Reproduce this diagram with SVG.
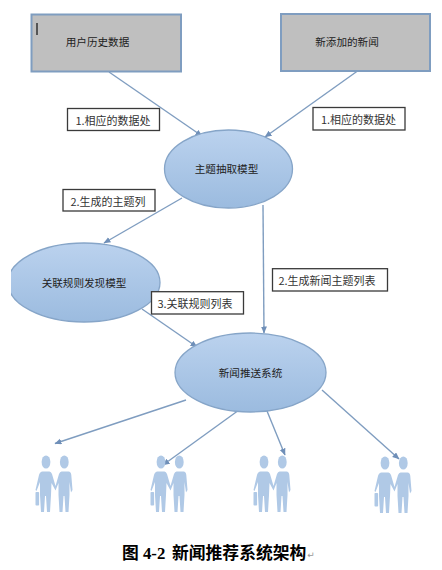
<svg xmlns="http://www.w3.org/2000/svg" width="442" height="570" viewBox="0 0 442 570">
<style>
.box{fill:#bfbfbf;stroke:#7f9dc0;stroke-width:2}
.ell{fill:url(#eg);stroke:#86a5c8;stroke-width:1.3}
.lab{fill:#fff;stroke:#3a3a3a;stroke-width:1.3}
text{font-family:"Noto Sans CJK SC","Liberation Sans",sans-serif;fill:#222;text-anchor:middle}
.n{font-size:10.6px}
.l{font-size:11px;fill:#333}
.con{fill:none;stroke:#7f9dc0;stroke-width:1.4;marker-end:url(#arr)}
.p{fill:#b0c9e6}
.cap{font-size:16.8px;font-weight:700;fill:#000;text-anchor:start;font-family:"Liberation Serif","Noto Sans CJK SC",serif}
</style>
<defs>
<linearGradient id="eg" x1="0" y1="0" x2="0" y2="1"><stop offset="0" stop-color="#bbd2ee"/><stop offset="1" stop-color="#9bbbdf"/></linearGradient>
<marker id="arr" markerWidth="8" markerHeight="8" refX="6.5" refY="3" orient="auto" markerUnits="userSpaceOnUse"><path d="M0,0L7,3L0,6Z" fill="#6f8fb8"/></marker>
<clipPath id="cl"><rect x="11" y="235" width="160" height="95"/></clipPath>
<g id="pair">
<ellipse cx="0" cy="0" rx="4.4" ry="6.6" class="p"/>
<ellipse cx="18.3" cy="0" rx="4.4" ry="6.6" class="p"/>
<path class="p" d="M-3.5,9.5L3.5,9.5Q5,9.500 6,12L9.500,24L13,12Q14,9.500 15.500,9.500L22.500,9.500Q25,9.500 25.300,13L26.500,28L25,30.500L23.500,20L23.500,33L22.500,50L19.500,50L18.500,34L17.500,34L16.500,50L13.500,50L12.500,33L12.500,21L9.500,28.500L5.500,21L5,33L4,50L1,50L0,34L-1,34L-2,50L-5,50L-6,33L-6,20L-9.500,29L-10.500,28L-7,13Q-6,9.500 -3.500,9.500Z"/>
<rect class="p" x="-10.5" y="30" width="3.6" height="13.5" rx="0.8"/>
</g>
</defs>
<rect width="442" height="570" fill="#fff"/>
<g id="connectors">
<path class="con" d="M109,72L202,136"/>
<path class="con" d="M357.5,71L265,137"/>
<path class="con" d="M182,198L104,243"/>
<path class="con" d="M263,205L264,333"/>
<path class="con" d="M142,309L197,347"/>
<path class="con" d="M186,400L55,443.5"/>
<path class="con" d="M239,410L163,465"/>
<path class="con" d="M267,411L285,455"/>
<path class="con" d="M322,390L399,459"/>
</g>
<g id="n-history"><rect class="box" x="31.5" y="14.5" width="149.500" height="57"/><rect x="36" y="23" width="2" height="12" fill="#555"/><text class="n" x="97.500" y="46">用户历史数据</text></g>
<g id="n-news"><rect class="box" x="281" y="14" width="149" height="57"/><text class="n" x="347" y="46">新添加的新闻</text></g>
<g id="n-topic"><ellipse class="ell" cx="228.500" cy="169" rx="64" ry="39"/><text class="n" x="226.500" y="173">主题抽取模型</text></g>
<g id="n-rule"><ellipse class="ell" cx="84" cy="282.500" rx="76" ry="39.500" clip-path="url(#cl)"/><text class="n" x="84" y="286.500">关联规则发现模型</text></g>
<g id="n-push"><ellipse class="ell" cx="250.500" cy="372.500" rx="75.500" ry="39.500"/><text class="n" x="250.500" y="376.500">新闻推送系统</text></g>
<g id="l1"><rect class="lab" x="67.500" y="108.500" width="92" height="22"/><text class="l" x="113" y="125">1.相应的数据处</text></g>
<g id="l2"><rect class="lab" x="313" y="107.500" width="92" height="22.500"/><text class="l" x="358.500" y="124">1.相应的数据处</text></g>
<g id="l3"><rect class="lab" x="63" y="189.500" width="92" height="21.500"/><text class="l" x="108" y="206">2.生成的主题列</text></g>
<g id="l4"><rect class="lab" x="151.500" y="291.700" width="92" height="22.300"/><text class="l" x="195" y="308">3.关联规则列表</text></g>
<g id="l5"><rect class="lab" x="272.500" y="268.700" width="115" height="22.300"/><text class="l" x="327" y="285">2.生成新闻主题列表</text></g>
<g id="u1"><use href="#pair" x="46" y="462"/></g>
<g id="u2"><use href="#pair" x="161" y="462"/></g>
<g id="u3"><use href="#pair" x="264" y="462"/></g>
<g id="u4"><use href="#pair" x="385" y="463"/></g>
<text class="cap" x="122" y="559">图 4-2 <tspan x="172">新闻推荐系统架构</tspan></text>
<text x="311" y="558" style="font-size:9px;fill:#999;font-family:'DejaVu Sans',sans-serif">↵</text>
</svg>
